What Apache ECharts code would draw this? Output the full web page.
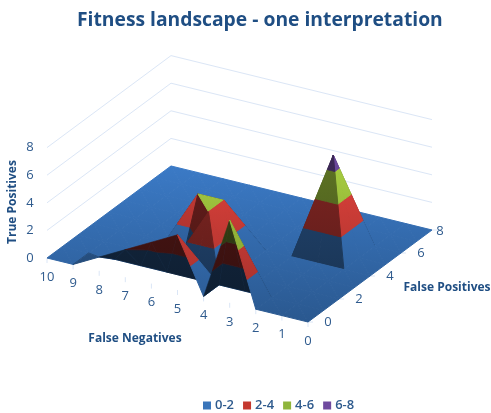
<!DOCTYPE html>
<html>
<head>
<meta charset="utf-8">
<style>html,body{margin:0;padding:0;background:#fff}#chart{width:491px;height:413px}</style>
<script src="https://cdn.jsdelivr.net/npm/echarts@6/dist/echarts.min.js"></script>
</head>
<body>
<div id="chart"></div>
<script>
// True Positives over the grid, one row per False Positives value,
// each row running from False Negatives 0 to 10.
const fp0 = [0, 0, 0, 6, 0, 4, 3, 2, 1, 0, 0];
const fp1 = [0, 0, 0, 0, 0, 0, 0, 0, 0, 0, 0];
const fp2 = [0, 0, 0, 0, 0, 4, 0, 0, 0, 0, 0];
const fp3 = [0, 0, 0, 0, 0, 4, 4, 0, 0, 0, 0];
const fp4 = [0, 0, 0, 0, 0, 0, 0, 0, 0, 0, 0];
const fp5 = [0, 0, 7, 0, 0, 0, 0, 0, 0, 0, 0];
const fp6 = [0, 0, 0, 0, 0, 0, 0, 0, 0, 0, 0];
const fp7 = [0, 0, 0, 0, 0, 0, 0, 0, 0, 0, 0];
const fp8 = [0, 0, 0, 0, 0, 0, 0, 0, 0, 0, 0];
const surface = [fp0, fp1, fp2, fp3, fp4, fp5, fp6, fp7, fp8];

const fnTicks = [0, 1, 2, 3, 4, 5, 6, 7, 8, 9, 10];
const fpTicks = [0, 2, 4, 6, 8];
const tpTicks = [0, 2, 4, 6, 8];
const bandNames = ['0-2', '2-4', '4-6', '6-8'];
const bandLimits = [[0, 2], [2, 4], [4, 6], [6, 8]];
const bandColors = ['#3b7ac6', '#dc413b', '#a6cc40', '#6a469a'];
const legendSwatches = ['#3a75ba', '#c4382f', '#8fb53c', '#6f4a9f'];

// Oblique projection of (False Negatives, False Positives, True Positives) to the page.
const origin = [308, 322];
const fnStep = [-26.1, -6.4];
const fpStep = [15.5, -11.5];
const tpStep = 13.8;
function project(fn, fp, tp) {
  return [
    origin[0] + fnStep[0] * fn + fpStep[0] * fp,
    origin[1] + fnStep[1] * fn + fpStep[1] * fp - tpStep * tp
  ];
}
// Distance along the line of sight, larger is further away.
function depth(v) {
  return 15.5 * v[0] + 26.1 * v[1] - 28.5 * v[2];
}

function clipAbove(poly, limit, sign) {
  const out = [];
  for (let i = 0; i < poly.length; i++) {
    const p = poly[i], q = poly[(i + 1) % poly.length];
    const dp = (p[2] - limit) * sign, dq = (q[2] - limit) * sign;
    if (dp >= 0) out.push(p);
    if ((dp > 0 && dq < 0) || (dp < 0 && dq > 0)) {
      const t = dp / (dp - dq);
      out.push([p[0] + (q[0] - p[0]) * t, p[1] + (q[1] - p[1]) * t, p[2] + (q[2] - p[2]) * t]);
    }
  }
  return out;
}

const undersideShade = 0.33;
// Slope shading: faces turned towards low False Positives or high False Negatives fall dark,
// and the underside of the sheet is darkest. A raking light lifts steep slopes at the far left.
function shadeOf(tri) {
  const [p, q, r] = tri;
  const ux = q[0] - p[0], uy = q[1] - p[1], uz = q[2] - p[2];
  const vx = r[0] - p[0], vy = r[1] - p[1], vz = r[2] - p[2];
  let nx = uy * vz - uz * vy, ny = uz * vx - ux * vz, nz = ux * vy - uy * vx;
  if (nz < 0) { nx = -nx; ny = -ny; nz = -nz; }
  const len = Math.hypot(nx, ny, nz);
  const sp = project(p[0], p[1], p[2]), sq = project(q[0], q[1], q[2]), sr = project(r[0], r[1], r[2]);
  const area = (sq[0] - sp[0]) * (sr[1] - sp[1]) - (sq[1] - sp[1]) * (sr[0] - sp[0]);
  const baseArea = (() => {
    const a = project(p[0], p[1], 0), b = project(q[0], q[1], 0), c = project(r[0], r[1], 0);
    return (b[0] - a[0]) * (c[1] - a[1]) - (b[1] - a[1]) * (c[0] - a[0]);
  })();
  if (area * baseArea < 0) return undersideShade;
  const steep = nz / len < 0.5;
  const raking = steep && (p[0] + q[0] + r[0]) / 3 > 6 ? 0.35 : 0;
  return Math.min(1, raking + 1 + Math.min(0, 0.45 * ny / len) + Math.min(0, -0.34 * nx / len));
}

function scaled(hex, k) {
  const n = parseInt(hex.slice(1), 16);
  const c = [n >> 16, (n >> 8) & 255, n & 255].map(v => Math.min(255, Math.round(v * k)));
  return 'rgb(' + c.join(',') + ')';
}

// Split each cell along its higher diagonal, furthest cells first, and cut the
// triangles into the value bands. The paint order is shared by all band series.
const bandPieces = bandNames.map(() => []);
let paintOrder = 10;
for (let a = fnTicks.length - 2; a >= 0; a--) {
  for (let b = surface.length - 2; b >= 0; b--) {
    const v00 = [a, b, surface[b][a]], v10 = [a + 1, b, surface[b][a + 1]];
    const v01 = [a, b + 1, surface[b + 1][a]], v11 = [a + 1, b + 1, surface[b + 1][a + 1]];
    const tris = (v00[2] + v11[2] >= v10[2] + v01[2])
      ? [[v00, v11, v10], [v00, v11, v01]]
      : [[v10, v01, v00], [v10, v01, v11]];
    tris.sort((s, t) => {
      const d = tri => depth(tri[0]) + depth(tri[1]) + depth(tri[2]);
      return d(t) - d(s);
    });
    tris.forEach(tri => {
      const shade = shadeOf(tri);
      const zs = tri.map(v => v[2]);
      const flat = Math.min(...zs) === Math.max(...zs);
      bandLimits.forEach((lim, i) => {
        if (flat) {
          if (zs[0] >= lim[0] && zs[0] < lim[1]) bandPieces[i].push({ poly: tri, shade, order: paintOrder });
          return;
        }
        const poly = clipAbove(clipAbove(tri, lim[0], 1), lim[1], -1);
        if (poly.length >= 3 && Math.max(...poly.map(v => v[2])) > lim[0]) {
          bandPieces[i].push({ poly, shade, order: paintOrder });
        }
      });
      paintOrder++;
    });
  }
}

const frontY = project(0, 0, 0)[1];
const backY = project(fnTicks[fnTicks.length - 1], fpTicks[fpTicks.length - 1], 0)[1];
function renderPiece(band) {
  return function (params) {
    const piece = bandPieces[band][params.dataIndex];
    const base = bandColors[band];
    const fill = new echarts.graphic.LinearGradient(0, backY, 0, frontY, [
      { offset: 0, color: scaled(base, piece.shade) },
      { offset: 1, color: scaled(base, piece.shade * 0.72) }
    ], true);
    // Thin outlines close the seams between pieces; undersides stay narrower so
    // the lit faces painted after them cover the folds.
    const outline = piece.shade === undersideShade ? 0.6 : 1;
    return {
      type: 'polygon',
      z2: piece.order,
      silent: true,
      shape: { points: piece.poly.map(v => project(v[0], v[1], v[2])) },
      style: { fill, stroke: fill, lineWidth: outline, lineJoin: 'round' }
    };
  };
}

const tickColor = '#2f5b8e';
const titleColor = '#1f4e83';
const wallColor = '#dbe6f6';
const lastFn = fnTicks[fnTicks.length - 1];
const lastFp = fpTicks[fpTicks.length - 1];

function line(p, q, color) {
  return { type: 'line', silent: true, z2: 1,
    shape: { x1: p[0], y1: p[1], x2: q[0], y2: q[1] },
    style: { stroke: color, lineWidth: 1 } };
}
function label(text, x, y, extra) {
  return Object.assign({
    type: 'text', silent: true, z2: 900,
    style: { text: String(text), x, y, fill: tickColor, align: 'center', verticalAlign: 'middle',
      font: '13px "Open Sans"' }
  }, extra || {});
}
function renderFrame() {
  const children = [];
  tpTicks.forEach(t => {
    const left = project(lastFn, 0, t), back = project(lastFn, lastFp, t), right = project(0, lastFp, t);
    children.push(line(left, back, wallColor), line(back, right, wallColor));
    children.push(label(t, left[0] - 17, left[1]));
  });
  fnTicks.forEach(f => {
    const p = project(f, 0, 0);
    children.push(line(p, [p[0], p[1] + 5], wallColor));
    children.push(label(f, p[0], p[1] + 19));
  });
  fpTicks.forEach(f => {
    const p = project(0, f, 0);
    children.push(line(p, [p[0] + 5, p[1]], wallColor));
    children.push(label(f, p[0] + (f === lastFp ? 8 : 20), p[1] + (f === lastFp ? 1 : 0)));
  });
  const axisFont = 'bold 12px "Open Sans"';
  children.push({
    type: 'text', silent: true, z2: 900, x: 13, y: 202, rotation: Math.PI / 2,
    style: { text: 'True Positives', x: 0, y: 0, fill: titleColor, align: 'center', verticalAlign: 'middle', font: axisFont }
  });
  children.push(label('False Negatives', 135, 339, { style: { text: 'False Negatives', x: 135, y: 339, fill: titleColor, align: 'center', verticalAlign: 'middle', font: axisFont } }));
  children.push(label('False Positives', 447, 288, { style: { text: 'False Positives', x: 447, y: 288, fill: titleColor, align: 'center', verticalAlign: 'middle', font: axisFont } }));
  return { type: 'group', children };
}

const series = bandNames.map((name, i) => ({
  name,
  type: 'custom',
  coordinateSystem: 'none',
  z: 2,
  animation: false,
  silent: true,
  itemStyle: { color: legendSwatches[i] },
  renderItem: renderPiece(i),
  data: bandPieces[i].map((_, k) => k)
}));
series.push({
  type: 'custom',
  coordinateSystem: 'none',
  z: 2,
  animation: false,
  silent: true,
  renderItem: renderFrame,
  data: [0]
});

const chart = echarts.init(document.getElementById('chart'), null, { renderer: 'canvas' });
chart.setOption({
  backgroundColor: '#ffffff',
  animation: false,
  title: {
    text: 'Fitness landscape - one interpretation',
    left: 72,
    top: 6,
    textStyle: { fontFamily: 'Open Sans', fontSize: 19.3, fontWeight: 'bold', color: titleColor }
  },
  legend: {
    data: bandNames,
    left: 198,
    top: 394,
    icon: 'rect',
    itemWidth: 8,
    itemHeight: 8,
    itemGap: 9,
    textStyle: { fontFamily: 'Open Sans', fontSize: 13, fontWeight: 600, color: tickColor, padding: [0, 0, 0, -1] },
    selectedMode: false
  },
  series
});
</script>
</body>
</html>
